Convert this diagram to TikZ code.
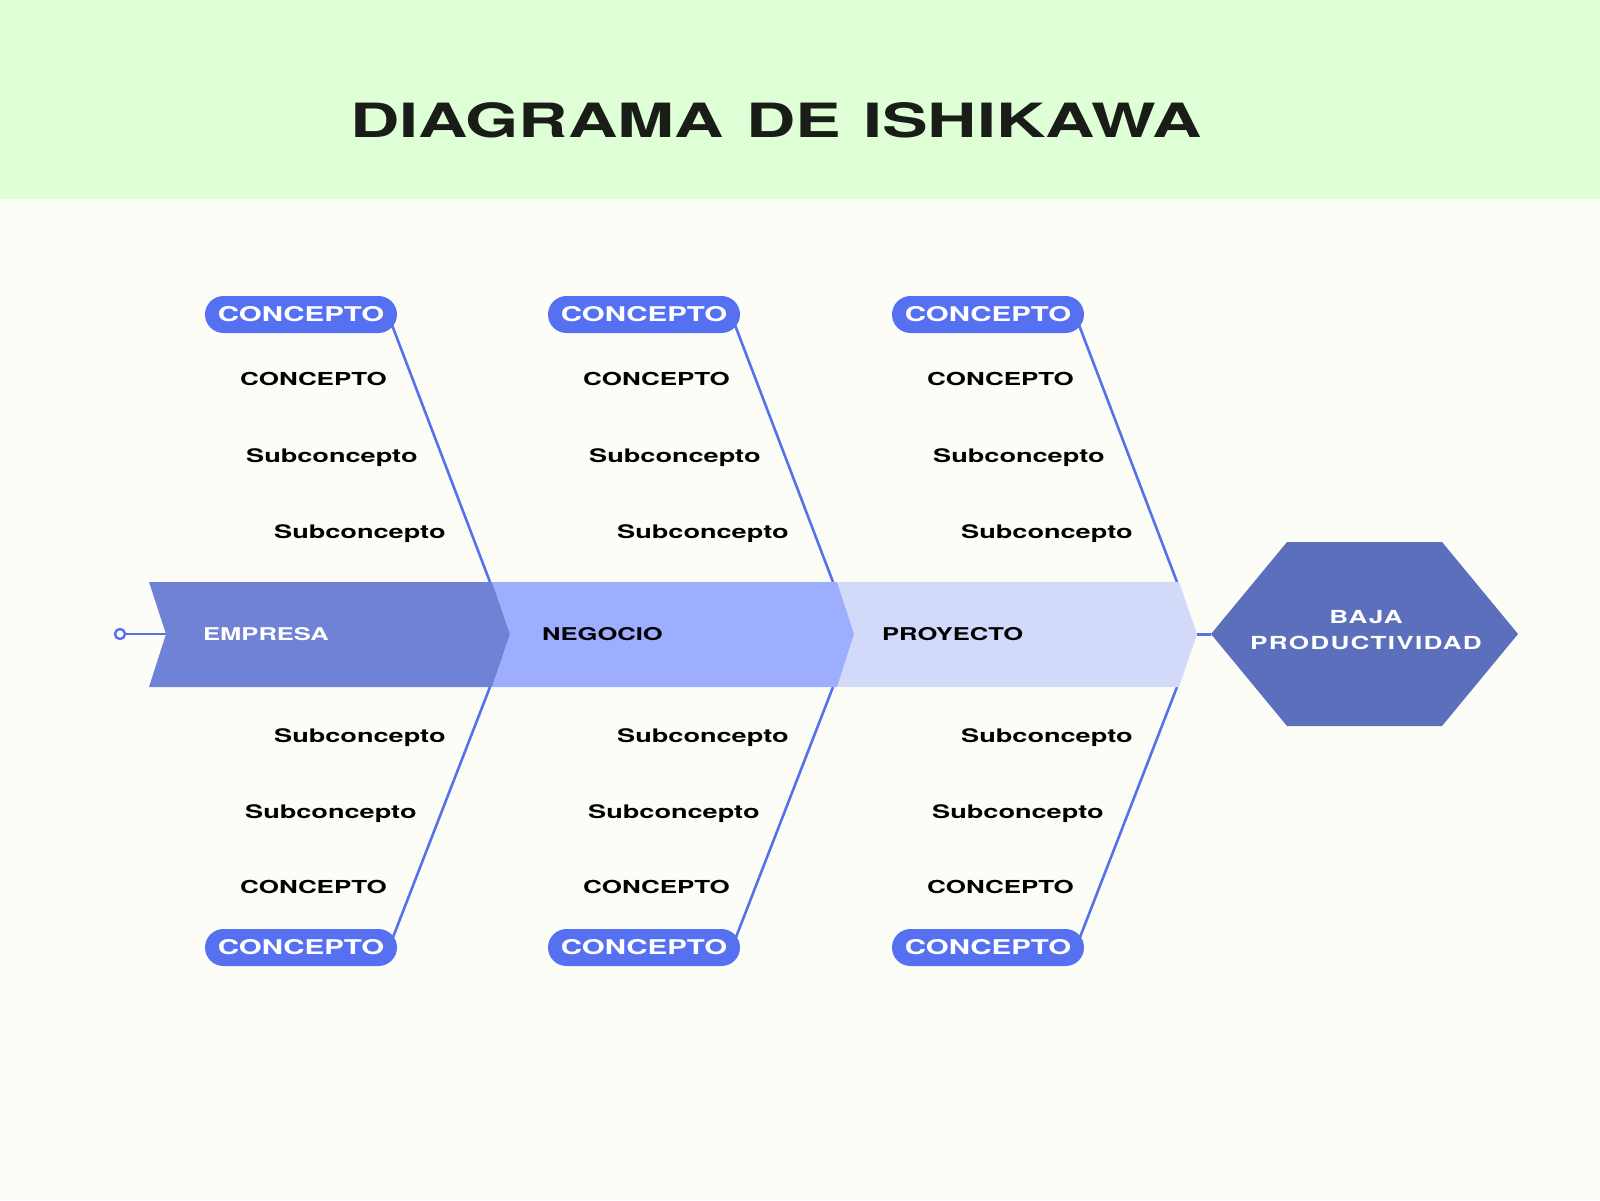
\documentclass[tikz,border=0pt]{standalone}
\usepackage{fontspec}
\newfontfamily\widefont[FakeStretch=1.45]{TeX Gyre Heros}
\newfontfamily\widespaced[FakeStretch=1.45,LetterSpace=7]{TeX Gyre Heros}
\definecolor{bgc}{HTML}{FDFDF8}
\definecolor{headc}{HTML}{DFFFD6}
\definecolor{titlec}{HTML}{1A1C18}
\definecolor{bonec}{HTML}{5670EE}
\definecolor{pillc}{HTML}{5670F2}
\definecolor{chevA}{HTML}{6F82D6}
\definecolor{chevB}{HTML}{9DAEFF}
\definecolor{chevC}{HTML}{D3DAF9}
\definecolor{hexc}{HTML}{5B6FBC}
\pgfdeclarelayer{back}
\pgfdeclarelayer{bones}
\pgfsetlayers{back,bones,main}
\tikzset{
  bone/.style={draw=bonec, line width=2.6pt},
  pill/.style={fill=pillc, rounded corners=18.5pt, minimum width=192pt, minimum height=37pt, inner sep=0pt, text=white,
    font=\widefont\bfseries\fontsize{20.3}{22}\selectfont},
  caplbl/.style={anchor=base west, inner sep=0pt, text=black, font=\widefont\bfseries\fontsize{17.9}{20}\selectfont},
  sublbl/.style={anchor=base west, inner sep=0pt, text=black, font=\widefont\bfseries\fontsize{18.7}{20}\selectfont},
  spinelbl/.style={anchor=base west, inner sep=0pt, font=\widefont\bfseries\fontsize{17.6}{20}\selectfont},
}
\begin{document}
\begin{tikzpicture}[x=1pt,y=-1pt]
\begin{pgfonlayer}{back}
  \fill[bgc] (0,0) rectangle (1600,1200);
  \fill[headc] (0,0) rectangle (1600,199);
\end{pgfonlayer}
\useasboundingbox (0,0) rectangle (1600,1200);
\node[inner sep=0pt, text=titlec, font=\widefont\bfseries\fontsize{47.2}{50}\selectfont] (title) at (776,120) {DIAGRAMA\hspace{3pt} DE\hspace{3pt} ISHIKAWA};

% spine
\fill[chevC] (837,582) -- (854,634) -- (837,687) -- (1179,687) -- (1197,634) -- (1179,582) -- cycle;
\fill[chevB] (492,582) -- (510,634) -- (492,687) -- (837,687) -- (854,634) -- (837,582) -- cycle;
\fill[chevA] (149,582) -- (166,634) -- (149,687) -- (492,687) -- (510,634) -- (492,582) -- cycle;
\coordinate (notch) at (166,634);
\coordinate (tip) at (1197,634);

% tail
\node[circle, draw=bonec, line width=2.4pt, fill=bgc, minimum size=10pt, inner sep=0pt] (tail) at (120,634) {};
\draw[bone] (tail) -- (notch);

% head
\fill[hexc] (1211,634) -- (1287,542) -- (1442,542) -- (1518,634) -- (1442,726) -- (1287,726) -- cycle;
\coordinate (hexleft) at (1211,634);
\draw[draw=bonec, line width=3pt] (tip) -- (hexleft);
\node[align=center, inner sep=0pt, text=white, font=\widespaced\bfseries\fontsize{18}{26}\selectfont] (effect) at (1366,630) {BAJA\\PRODUCTIVIDAD};

% spine labels
\node[spinelbl, text=white] (empresa) at (203,640.5) {EMPRESA};
\node[spinelbl, text=black] (negocio) at (542,640.5) {NEGOCIO};
\node[spinelbl, text=black] (proyecto) at (882,640.5) {PROYECTO};

\foreach \i/\dx in {1/0,2/343,3/687}{
  \node[pill] (ctop\i) at (301+\dx,314.5) {CONCEPTO};
  \node[pill] (cbot\i) at (301+\dx,947.5) {CONCEPTO};
  \coordinate (st\i) at (490+\dx,582);
  \coordinate (sb\i) at (490+\dx,687);
  \begin{pgfonlayer}{bones}
    \draw[bone] ([xshift=87pt]ctop\i.center) -- (st\i);
    \draw[bone] ([xshift=88pt]cbot\i.center) -- (sb\i);
  \end{pgfonlayer}
  \node[caplbl] (ta\i) at (240+\dx,385.5) {CONCEPTO};
  \node[sublbl] (tb\i) at (246+\dx,462) {Subconcepto};
  \node[sublbl] (tc\i) at (274+\dx,538) {Subconcepto};
  \node[sublbl] (bc\i) at (274+\dx,742) {Subconcepto};
  \node[sublbl] (bb\i) at (245+\dx,818) {Subconcepto};
  \node[caplbl] (ba\i) at (240+\dx,893) {CONCEPTO};
}
\end{tikzpicture}
\end{document}
